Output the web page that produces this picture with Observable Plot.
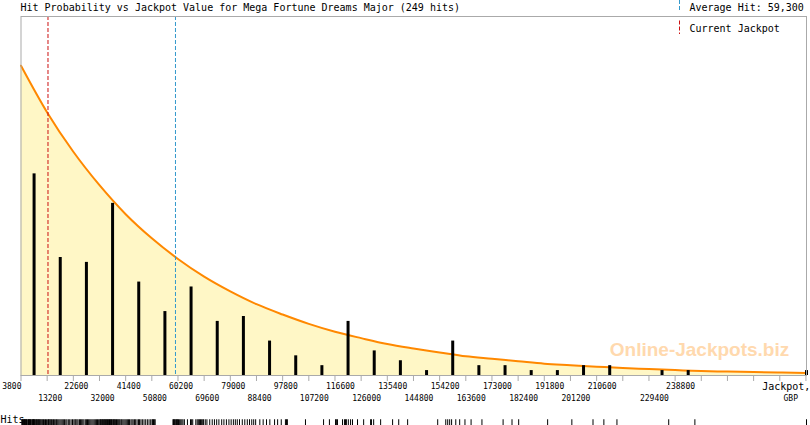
<!DOCTYPE html>
<html><head><meta charset="utf-8">
<script src="https://cdn.jsdelivr.net/npm/d3@7"></script>
<script src="https://cdn.jsdelivr.net/npm/@observablehq/plot@0.6"></script>
<style>body{margin:0;background:#fff}svg{display:block}</style>
</head><body><div id="chart"></div>
<script>
const title = "Hit Probability vs Jackpot Value for Mega Fortune Dreams Major (249 hits)";
const averageHit = 59300;
const currentJackpot = 13500;
const averageLabel = "Average Hit: 59,300";
const currentLabel = "Current Jackpot";
const xLabel = "Jackpot,";
const unitLabel = "GBP";
const hitsLabel = "Hits";
const watermark = "Online-Jackpots.biz";

const barCenters = [8500, 17900, 27300, 36700, 46100, 55500, 64900, 74300, 83700, 93100, 102500, 111900, 121300, 130700, 140100, 149500, 158900, 168300, 177700, 187100, 196500, 205900, 215300, 234100, 243500, 286000];
const barCounts  = [41, 24, 23, 35, 19, 13, 18, 11, 12, 7, 4, 2, 11, 5, 3, 1, 7, 2, 2, 1, 1, 2, 2, 1, 1, 1];

const curveX = [3800, 13200, 22600, 32000, 41400, 50800, 60200, 69600, 79000, 88400, 97800, 107200, 116600, 126000, 135400, 144800, 154200, 163600, 173000, 182400, 191800, 201200, 210600, 220000, 229400, 238800, 248200, 257600, 267000, 276400, 286000];
const curveY = [63.0, 53.5, 45.5, 38.7, 32.8, 27.9, 23.7, 20.1, 17.1, 14.5, 12.4, 10.5, 8.9, 7.6, 6.4, 5.5, 4.7, 3.9, 3.4, 2.9, 2.4, 2.1, 1.8, 1.5, 1.3, 1.1, 0.9, 0.8, 0.7, 0.6, 0.5];

const tickValues = [3800, 13200, 22600, 32000, 41400, 50800, 60200, 69600, 79000, 88400, 97800, 107200, 116600, 126000, 135400, 144800, 154200, 163600, 173000, 182400, 191800, 201200, 210600, 220000, 229400, 238800, 248200, 257600, 267000, 276400, 285800];
const topLabels = [3800, 22600, 41400, 60200, 79000, 97800, 116600, 135400, 154200, 173000, 191800, 210600, 238800];
const bottomLabels = [13200, 32000, 50800, 69600, 88400, 107200, 126000, 144800, 163600, 182400, 201200, 229400];

const hits = [
  4100, 4300, 4500, 4600, 4800, 5000, 5100, 5300, 5500, 5600, 5800, 6000, 6300, 6500, 6700, 6800, 7000, 7200, 7400, 7700, 7900, 8100, 8300, 8400, 8600, 8800, 9100, 9300, 9500, 9800, 10000, 10200, 10500, 10700, 11000, 11300, 11600, 11900, 12300, 12600, 13000,
  13400, 13700, 13900, 14200, 14500, 14800, 15200, 15500, 15900, 16300, 16600, 17000, 17400, 17800, 18200, 18600, 19000, 19400, 19900, 20300, 20800, 21300, 21800, 22300,
  22800, 23200, 23500, 23900, 24300, 24800, 25200, 25600, 26000, 26400, 26900, 27300, 27700, 28100, 28500, 28900, 29300, 29700, 30100, 30500, 30900, 31300, 31700,
  32100, 32300, 32500, 32800, 33000, 33200, 33500, 33700, 33900, 34200, 34400, 34600, 34900, 35100, 35300, 35600, 35800, 36000, 36300, 36500, 36800, 37000, 37300, 37500, 37800, 38100, 38400, 38700, 39000, 39300, 39700, 40000, 40400, 40800, 41200,
  41600, 42000, 42400, 42800, 43300, 43700, 44100, 44600, 45000, 45500, 46000, 46400, 46900, 47400, 48000, 48600, 49200, 49800, 50400,
  50900, 51100, 51400, 51700, 52000, 58400, 58600, 58900, 59100, 59400, 59700, 59900, 60100,
  60400, 60800, 61200, 61600, 62000, 62500, 63600, 64700, 65100, 65500, 66600, 67100, 67500, 67900, 68300, 68700, 69100, 69400,
  70000, 70600, 71600, 72500, 73300, 74100, 74900, 75900, 76700, 77600, 78500,
  79300, 80100, 80800, 81500, 82300, 83300, 84200, 85100, 85900, 86700, 87400, 88100,
  89600, 90800, 92000, 93200, 94900, 96000, 97300,
  98800, 99200, 99500, 106000,
  112500, 114600,
  116800, 117100, 117500, 119300, 120000, 120400, 120700, 121400, 122200, 122900, 124700,
  126900, 129400, 129700, 130500, 133000,
  137300, 139500, 142700,
  153500,
  156400, 157100, 157800, 158500, 160000, 161400, 163300,
  165500, 169400,
  177000, 180200,
  182600,
  193000,
  201700, 209300,
  213200, 217900,
  236500,
  245900,
  286000
];

const curve = curveX.map((x, i) => ({x, y: curveY[i]}));
const bars = barCenters.map((x, i) => ({x, n: barCounts[i]}));
const mono = "DejaVu Sans Mono";

function legendDashes(index, scales, values, dims) {
  const g = d3.create("svg:g");
  const x = dims.width - dims.marginRight - 126.5;
  g.append("line").attr("x1", x).attr("x2", x).attr("y1", 0).attr("y2", 11)
    .attr("stroke", "#3399cc").attr("stroke-dasharray", "4,2");
  g.append("line").attr("x1", x).attr("x2", x).attr("y1", 20.5).attr("y2", 34)
    .attr("stroke", "#cc1111").attr("stroke-dasharray", "4,2");
  return g.node();
}

const chart = Plot.plot({
  width: 810,
  height: 425,
  marginLeft: 20.5,
  marginRight: 4,
  marginTop: 16,
  marginBottom: 50,
  style: {fontFamily: mono, fontSize: "10px", background: "white", color: "black"},
  x: {domain: [3800, 286000], axis: null},
  y: {domain: [0, 73], axis: null},
  marks: [
    Plot.areaY(curve, {x: "x", y: "y", fill: "#fff7c6", curve: "monotone-x"}),
    Plot.lineY(curve, {x: "x", y: "y", stroke: "#ff8800", strokeWidth: 2, curve: "monotone-x"}),
    Plot.ruleX([currentJackpot], {x: d => d, stroke: "#cc1111", strokeDasharray: "4,2"}),
    Plot.ruleX([averageHit], {x: d => d, stroke: "#3399cc", strokeDasharray: "4,2"}),
    Plot.ruleX(bars, {x: "x", y1: 0, y2: "n", stroke: "black", strokeWidth: 3}),
    Plot.frame({stroke: "#aaaaaa"}),
    Plot.ruleX(tickValues, {x: d => d, y1: 0, y2: -1.22, stroke: "#aaaaaa"}),
    Plot.text(topLabels.slice(0, 1), {x: d => d, text: d => String(d), frameAnchor: "bottom", textAnchor: "end", lineAnchor: "bottom", dx: 0.5, dy: 13.3, fontSize: 8}),
    Plot.text(topLabels.slice(1), {x: d => d, text: d => String(d), frameAnchor: "bottom", textAnchor: "start", lineAnchor: "bottom", dx: -9, dy: 13.3, fontSize: 8}),
    Plot.text(bottomLabels, {x: d => d, text: d => String(d), frameAnchor: "bottom", textAnchor: "start", lineAnchor: "bottom", dx: -9, dy: 25.7, fontSize: 8}),
    Plot.text([xLabel], {text: d => d, frameAnchor: "bottom-right", textAnchor: "start", lineAnchor: "bottom", dx: -44.3, dy: 14, fontSize: 10}),
    Plot.text([unitLabel], {text: d => d, frameAnchor: "bottom-right", textAnchor: "start", lineAnchor: "bottom", dx: -23, dy: 25.7, fontSize: 8}),
    Plot.text([title], {text: d => d, frameAnchor: "top-left", textAnchor: "start", lineAnchor: "bottom", dx: -0.5, dy: -6, fontSize: 10}),
    Plot.text([averageLabel], {text: d => d, frameAnchor: "top-right", textAnchor: "start", lineAnchor: "bottom", dx: -117, dy: -6, fontSize: 10}),
    Plot.text([currentLabel], {text: d => d, frameAnchor: "top-right", textAnchor: "start", lineAnchor: "bottom", dx: -117, dy: 15, fontSize: 10}),
    legendDashes,
    Plot.text([watermark], {text: d => d, frameAnchor: "bottom-right", textAnchor: "middle", lineAnchor: "bottom", dx: -107, dy: -20, fontSize: 19, fontWeight: "bold", fontFamily: "Liberation Sans", fill: "#ffd9ae"}),
    Plot.text([hitsLabel], {text: d => d, frameAnchor: "bottom-left", textAnchor: "start", lineAnchor: "bottom", dx: -20.5, dy: 47, fontSize: 10}),
    Plot.ruleX(hits, {x: d => d, y1: -9.0, y2: -11.5, stroke: "black"})
  ]
});
document.getElementById("chart").appendChild(chart);
</script>
</body></html>
